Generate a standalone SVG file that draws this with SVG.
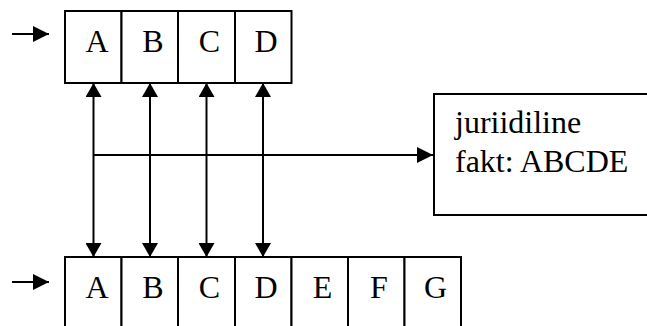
<svg xmlns="http://www.w3.org/2000/svg" width="647" height="326" viewBox="0 0 647 326">
<style>
.cell{fill:#fff;stroke:#000;stroke-width:2}
.lbl{font-family:"Liberation Serif","Times New Roman",serif;font-size:32px;fill:#000;text-anchor:middle}
.txt{font-family:"Liberation Serif","Times New Roman",serif;font-size:32px;fill:#000}
.ln{stroke:#000;stroke-width:2;fill:none}
</style>
<defs>
<marker id="ah" markerWidth="15" markerHeight="16" refX="14" refY="8" orient="auto-start-reverse" markerUnits="userSpaceOnUse">
<path d="M0,0 L14,8 L0,16 Z" fill="#000"/>
</marker>
<marker id="ahs" markerWidth="16" markerHeight="16" refX="16" refY="8" orient="auto" markerUnits="userSpaceOnUse">
<path d="M0,0 L16,8 L0,16 Z" fill="#000"/>
</marker>
</defs>
<g id="top-row">
<rect class="cell" x="65" y="11" width="56.5" height="72"/>
<rect class="cell" x="121.5" y="11" width="56.5" height="72"/>
<rect class="cell" x="178" y="11" width="57" height="72"/>
<rect class="cell" x="235" y="11" width="56.5" height="72"/>
<text class="lbl" x="97" y="52">A</text>
<text class="lbl" x="153" y="52">B</text>
<text class="lbl" x="209.5" y="52">C</text>
<text class="lbl" x="266" y="52">D</text>
</g>
<g id="bottom-row">
<rect class="cell" x="65" y="257" width="56.5" height="80"/>
<rect class="cell" x="121.5" y="257" width="56.5" height="80"/>
<rect class="cell" x="178" y="257" width="57" height="80"/>
<rect class="cell" x="235" y="257" width="56.5" height="80"/>
<rect class="cell" x="291.5" y="257" width="56.5" height="80"/>
<rect class="cell" x="348" y="257" width="56.5" height="80"/>
<rect class="cell" x="404.5" y="257" width="56.5" height="80"/>
<text class="lbl" x="97" y="298">A</text>
<text class="lbl" x="153" y="298">B</text>
<text class="lbl" x="209.5" y="298">C</text>
<text class="lbl" x="266" y="298">D</text>
<text class="lbl" x="322.5" y="298">E</text>
<text class="lbl" x="379" y="298">F</text>
<text class="lbl" x="435.5" y="298">G</text>
</g>
<g id="fact-box">
<rect class="cell" x="434" y="94" width="230" height="121"/>
<text class="txt" x="455" y="133">juriidiline</text>
<text class="txt" x="455" y="171.5">fakt: ABCDE</text>
</g>
<g id="connectors">
<line class="ln" x1="12" y1="34" x2="49" y2="34" marker-end="url(#ahs)"/>
<line class="ln" x1="12" y1="282" x2="49" y2="282" marker-end="url(#ahs)"/>
<line class="ln" x1="93.5" y1="83" x2="93.5" y2="257" marker-start="url(#ah)" marker-end="url(#ah)"/>
<line class="ln" x1="150" y1="83" x2="150" y2="257" marker-start="url(#ah)" marker-end="url(#ah)"/>
<line class="ln" x1="206.5" y1="83" x2="206.5" y2="257" marker-start="url(#ah)" marker-end="url(#ah)"/>
<line class="ln" x1="263" y1="83" x2="263" y2="257" marker-start="url(#ah)" marker-end="url(#ah)"/>
<line class="ln" x1="93.5" y1="155" x2="433" y2="155" marker-end="url(#ahs)"/>
</g>
</svg>
